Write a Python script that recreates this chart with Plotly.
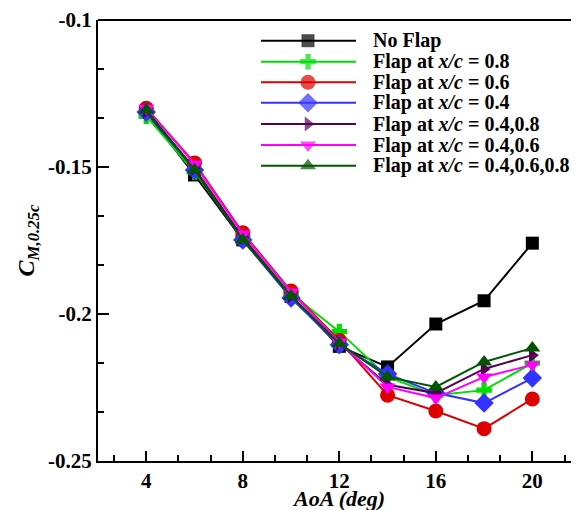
import plotly.graph_objects as go

aoa = [4, 6, 8, 10, 12, 14, 16, 18, 20]

no_flap   = [-0.1313, -0.1527, -0.1748, -0.1940, -0.2110, -0.2180, -0.2034, -0.1955, -0.1759]
flap_08   = [-0.1327, -0.1517, -0.1740, -0.1930, -0.2060, -0.2214, -0.2276, -0.2259, -0.2167]
flap_06   = [-0.1300, -0.1486, -0.1724, -0.1922, -0.2090, -0.2276, -0.2330, -0.2390, -0.2289]
flap_04   = [-0.1313, -0.1510, -0.1748, -0.1946, -0.2105, -0.2204, -0.2269, -0.2303, -0.2218]
flap_0408 = [-0.1310, -0.1505, -0.1740, -0.1938, -0.2100, -0.2241, -0.2269, -0.2187, -0.2140]
flap_0406 = [-0.1300, -0.1490, -0.1728, -0.1925, -0.2095, -0.2248, -0.2286, -0.2214, -0.2173]
flap_all  = [-0.1306, -0.1510, -0.1748, -0.1939, -0.2100, -0.2214, -0.2248, -0.2163, -0.2116]

names = ["No Flap",
         "Flap at <i>x/c</i> = 0.8",
         "Flap at <i>x/c</i> = 0.6",
         "Flap at <i>x/c</i> = 0.4",
         "Flap at <i>x/c</i> = 0.4,0.8",
         "Flap at <i>x/c</i> = 0.4,0.6",
         "Flap at <i>x/c</i> = 0.4,0.6,0.8"]
series = [no_flap, flap_08, flap_06, flap_04, flap_0408, flap_0406, flap_all]
colors = ["#000000", "#00DD00", "#DD0000", "#3333FF", "#550055", "#FF00FF", "#005500"]
symbols = ["square", "cross", "circle", "diamond", "triangle-right", "triangle-down", "triangle-up"]
sizes = [13, 13, 15, 15, 13, 14, 14]

# page body has an 8px default margin; compensate so the plot lands at the target pixels
OFF = 8
W, H = 579 - OFF, 510 - OFF
L, T, R = 98 - OFF, 20 - OFF, 0
ph = 441
B = H - T - ph
pw = W - L - R

FONT = "'Liberation Serif', 'Times New Roman', Times, serif"

fig = go.Figure()
for name, ys, c, s, sz in zip(names, series, colors, symbols, sizes):
    fig.add_trace(go.Scatter(x=aoa, y=ys, mode="lines+markers", name=name,
                             line=dict(color=c, width=2),
                             marker=dict(symbol=s, size=sz, color=c, line=dict(width=0)),
                             showlegend=False))

# custom legend (overlay axes in plot fraction coordinates); args are page pixels
def px_x(p):
    return (p - 98) / pw

def px_y(p):
    return (461 - p) / ph

row_y = [40.7, 61.7, 82.3, 102.7, 124, 145, 165.7]
for name, c, s, sz, ry in zip(names, colors, symbols, sizes, row_y):
    yy = px_y(ry)
    fig.add_trace(go.Scatter(x=[px_x(261), px_x(308), px_x(356)], y=[yy, yy, yy],
                             mode="lines+markers", xaxis="x2", yaxis="y2",
                             line=dict(color=c, width=2),
                             marker=dict(symbol=s, size=[0, sz, 0], color=c, line=dict(width=0)),
                             showlegend=False, hoverinfo="skip"))
    fig.add_annotation(x=px_x(371), y=yy, xref="x2", yref="y2", text="<b>" + name + "</b>",
                       showarrow=False, xanchor="left", yanchor="middle",
                       font=dict(family=FONT, size=20, color="black"))

xmax = 4 + (579 - 145) / 24.2
fig.update_layout(
    width=W, height=H,
    margin=dict(l=L, r=R, t=T, b=B, pad=0),
    paper_bgcolor="white", plot_bgcolor="white",
    font=dict(family=FONT, color="black"),
    xaxis=dict(range=[2, xmax], tickmode="array", tickvals=[4, 8, 12, 16, 20],
               ticktext=["<b>4</b>", "<b>8</b>", "<b>12</b>", "<b>16</b>", "<b>20</b>"],
               ticks="inside", ticklen=10, tickwidth=2, tickcolor="black",
               minor=dict(tick0=0, dtick=4/3, ticks="inside", ticklen=6, tickwidth=1.5, tickcolor="black"),
               showline=True, linewidth=2, linecolor="black", showgrid=False, zeroline=False,
               automargin=False, tickfont=dict(family=FONT, size=21)),
    yaxis=dict(range=[-0.25, -0.1], tickmode="array", tickvals=[-0.25, -0.2, -0.15, -0.1],
               ticktext=["<b>-0.25</b>", "<b>-0.2</b>", "<b>-0.15</b>", "<b>-0.1</b>"],
               ticks="inside", ticklen=11, tickwidth=2, tickcolor="black",
               minor=dict(tick0=-0.25, dtick=0.05/3, ticks="inside", ticklen=6, tickwidth=1.5, tickcolor="black"),
               showline=True, linewidth=2, linecolor="black", showgrid=False, zeroline=False,
               automargin=False, tickfont=dict(family=FONT, size=21)),
    xaxis2=dict(domain=[0, 1], range=[0, 1], overlaying="x", visible=False, anchor="y2", automargin=False),
    yaxis2=dict(domain=[0, 1], range=[0, 1], overlaying="y", visible=False, anchor="x2", automargin=False),
)

# top frame line
fig.add_shape(type="line", xref="paper", yref="paper", x0=0, x1=1, y0=1, y1=1,
              line=dict(color="black", width=2))

fig.add_annotation(xref="paper", yref="paper", x=(27 - 98) / pw, y=0.5,
                   text="<b><i>C</i></b><sub><b><i>M,0.25c</i></b></sub>", textangle=-90,
                   showarrow=False, xanchor="center", yanchor="middle",
                   font=dict(family=FONT, size=24))
fig.add_annotation(xref="paper", yref="paper", x=(338 - 98) / pw, y=-(498 - 461) / ph,
                   text="<b><i>AoA (deg)</i></b>", showarrow=False,
                   xanchor="center", yanchor="middle", font=dict(family=FONT, size=22))

fig.write_html("out.html")
